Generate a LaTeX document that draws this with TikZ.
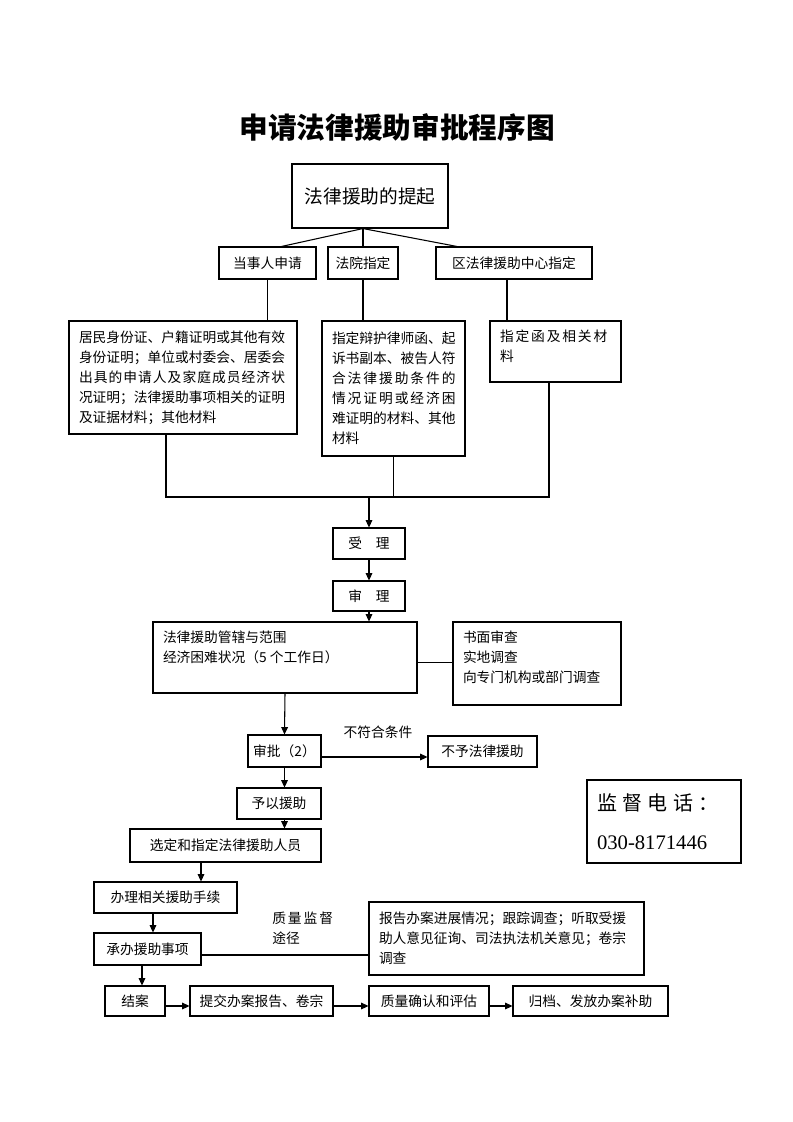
\documentclass[tikz,border=0pt]{standalone}
\usepackage{fontspec}
\setmainfont{Liberation Serif}
\newfontfamily\cjk{Noto Sans CJK SC}
\usetikzlibrary{arrows.meta,calc}
\newdimen\pxu \pxu=0.75pt
\tikzset{
  box/.style={draw, line width=0.8pt, inner sep=0pt, font=\cjk\fontsize{10.3pt}{15pt}\selectfont},
  arr/.style={line width=0.8pt, -{Triangle[length=5.5pt,width=5pt]}},
  ln/.style={line width=0.8pt},
  lbl/.style={inner sep=0pt, font=\cjk\fontsize{10.3pt}{15pt}\selectfont},
}
% box with paragraph text: name, x1, y1, x2, y2, vpos, align, text
\newcommand{\bx}[8]{\node[box, minimum width={(#4-#2)*0.75pt}, minimum height={(#5-#3)*0.75pt}] (#1) at ({(#2+#4)/2},{(#3+#5)/2}) {\parbox[c][\dimexpr #5\pxu-#3\pxu-18\pxu\relax][#6]{\dimexpr #4\pxu-#2\pxu-20\pxu\relax}{#7#8}};}
% single-line box: [style] name, x1, y1, x2, y2, text
\newcommand{\sbx}[7][]{\node[box, #1, minimum width={(#5-#3)*0.75pt}, minimum height={(#6-#4)*0.75pt}] (#2) at ({(#3+#5)/2},{(#4+#6)/2}) {#7};}
\begin{document}
\begin{tikzpicture}[x=0.75pt, y=-0.75pt]
\useasboundingbox (0,0) rectangle (793,1122);

% title
\node[inner sep=0pt, font=\cjk\bfseries\fontsize{21.5pt}{26pt}\selectfont] (title) at (397,127) {申请法律援助审批程序图};

% top
\sbx[font=\cjk\fontsize{14pt}{17pt}\selectfont]{B0}{292}{164}{448}{228}{法律援助的提起}
\sbx{B1}{219}{247}{316}{279}{当事人申请}
\sbx{B2}{328}{247}{398}{279}{法院指定}
\sbx{B3}{436}{247}{592}{279}{区法律援助中心指定}

\coordinate (br) at (B2.north |- B0.south);
\draw[ln] (br) -- ($(B1.north)+(14,0)$);
\draw[ln] (br) -- (B2.north);
\draw[ln] (br) -- ($(B3.north)+(-57,0)$);

% materials
\bx{B4}{69}{321}{297}{434}{c}{\raggedright}{居民身份证、户籍证明或其他有效\\身份证明；单位或村委会、居委会\\\makebox[15em][s]{出\hfill 具\hfill 的\hfill 申\hfill 请\hfill 人\hfill 及\hfill 家\hfill 庭\hfill 成\hfill 员\hfill 经\hfill 济\hfill 状}\\况证明；法律援助事项相关的证明\\及证据材料；其他材料}
\bx{B5}{322}{321}{465}{456}{c}{\raggedright}{指定辩护律师函、起\\诉书副本、被告人符\\\makebox[9em][s]{合\hfill 法\hfill 律\hfill 援\hfill 助\hfill 条\hfill 件\hfill 的}\\\makebox[9em][s]{情\hfill 况\hfill 证\hfill 明\hfill 或\hfill 经\hfill 济\hfill 困}\\难证明的材料、其他\\材料}
\bx{B6}{490}{321}{621}{382}{t}{\raggedright}{指\kern1.4pt 定\kern1.4pt 函\kern1.4pt 及\kern1.4pt 相\kern1.4pt 关\kern1.4pt 材\\料}

\draw[ln] (B1.south) -- (B1.south |- B4.north);
\draw[ln] (B2.south) -- (B2.south |- B5.north);
\coordinate (b3s) at ($(B3.south)+(-7,0)$);
\draw[ln] (b3s) -- (b3s |- B6.north);

\coordinate (J) at (369,497);
\coordinate (L) at (166,497);
\coordinate (R) at (549,497);
\draw[ln] (L |- B4.south) -- (L) -- (R) -- (R |- B6.south);
\draw[ln] (B5.south) -- (B5.south |- J);

% process
\sbx{B7}{333}{528}{405}{559}{受\hspace{1em}理}
\sbx{B8}{333}{581}{405}{611}{审\hspace{1em}理}
\draw[arr] (J) -- (B7.north);
\draw[arr] (B7.south) -- (B8.north);

\bx{B9}{153}{622}{417}{693}{t}{\raggedright}{法律援助管辖与范围\\经济困难状况（5 个工作日）}
\bx{B10}{453}{622}{621}{705}{t}{\raggedright}{书面审查\\实地调查\\向专门机构或部门调查}
\draw[arr] (B8.south) -- (B8.south |- B9.north);
\coordinate (p9) at ($(B9.east)+(0,5)$);
\draw[ln] (p9) -- (p9 -| B10.west);

\sbx{B11}{248}{735}{321}{767}{审批（2）}
\sbx{B12}{428}{736}{537}{767}{不予法律援助}
\draw[arr] (B9.south) -- (B11.north);
\coordinate (p11) at ($(B11.east)+(0,6)$);
\draw[arr] (p11) -- (p11 -| B12.west);
\node[lbl] (ncond) at (378,732) {不符合条件};

\sbx{B13}{237}{788}{321}{819}{予以援助}
\sbx{B14}{130}{829}{321}{862}{选定和指定法律援助人员}
\draw[arr] (B11.south) -- (B11.south |- B13.north);
\draw[arr] (B11.south |- B13.south) -- (B11.south |- B14.north);

% supervision phone
\bx{B22}{587}{780}{741}{863}{c}{\raggedright\fontsize{15pt}{29pt}\selectfont}{监\hspace{4pt}督\hspace{4pt}电\hspace{4pt}话\hspace{4pt}：\\{\rmfamily\fontsize{15.5pt}{29pt}\selectfont 030-8171446}}

% handling
\sbx{B15}{94}{882}{237}{913}{办理相关援助手续}
\sbx{B16}{94}{933}{201}{965}{承办援助事项}
\coordinate (X2) at (201,0);
\coordinate (X3) at (153,0);
\coordinate (X4) at (142,0);
\draw[arr] (B14.south -| X2) -- (B15.north -| X2);
\draw[arr] (B15.south -| X3) -- (B16.north -| X3);

\bx{B17}{369}{902}{644}{975}{c}{\raggedright}{报告办案进展情况；跟踪调查；听取受援\\助人意见征询、司法执法机关意见；卷宗\\调查}
\coordinate (p16) at ($(B16.east)+(0,6)$);
\draw[ln] (p16) -- (p16 -| B17.west);
\node[lbl, anchor=west, align=left] (qual) at (272,928) {质\kern1.5pt 量\kern1.5pt 监\kern1.5pt 督\\途径};

\sbx{B18}{105}{986}{165}{1016}{结案}
\sbx{B19}{190}{986}{333}{1016}{提交办案报告、卷宗}
\sbx{B20}{369}{986}{489}{1016}{质量确认和评估}
\sbx{B21}{513}{986}{668}{1016}{归档、发放办案补助}
\draw[arr] (B16.south -| X4) -- (B18.north -| X4);
\coordinate (p18) at ($(B18.east)+(0,5)$);
\coordinate (p19) at ($(B19.east)+(0,5)$);
\coordinate (p20) at ($(B20.east)+(0,5)$);
\draw[arr] (p18) -- (p18 -| B19.west);
\draw[arr] (p19) -- (p19 -| B20.west);
\draw[arr] (p20) -- (p20 -| B21.west);
\end{tikzpicture}
\end{document}
